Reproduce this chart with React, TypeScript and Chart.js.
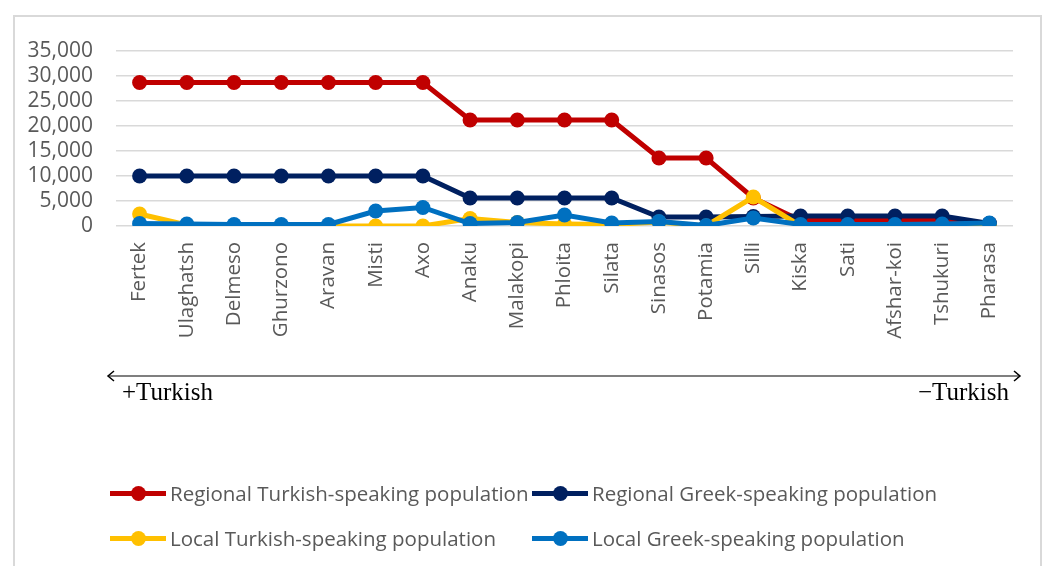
import React, { useEffect, useRef } from "react";
import { Chart, registerables } from "chart.js";

Chart.register(...registerables);

const categories = [
  "Fertek", "Ulaghatsh", "Delmeso", "Ghurzono", "Aravan", "Misti", "Axo",
  "Anaku", "Malakopi", "Phloita", "Silata", "Sinasos", "Potamia", "Silli",
  "Kiska", "Sati", "Afshar-koi", "Tshukuri", "Pharasa",
];

const regionalTurkish = [
  28700, 28700, 28700, 28700, 28700, 28700, 28700,
  21200, 21200, 21200, 21200, 13600, 13600, 5600,
  1100, 1100, 1100, 1100, 500,
];
const regionalGreek = [
  10000, 10000, 10000, 10000, 10000, 10000, 10000,
  5600, 5600, 5600, 5600, 1800, 1800, 1900,
  2000, 2000, 2000, 2000, 500,
];
const localTurkish = [
  2400, 200, 0, 0, 0, 0, 0,
  1500, 700, 400, 300, 800, 0, 5800,
  0, 0, 0, 0, 0,
];
const localGreek = [
  500, 400, 300, 300, 300, 3000, 3700,
  500, 700, 2200, 600, 900, 100, 1600,
  300, 300, 300, 400, 600,
];

const seriesNames = [
  "Regional Turkish-speaking population",
  "Regional Greek-speaking population",
  "Local Turkish-speaking population",
  "Local Greek-speaking population",
];
const seriesColors = ["#C00000", "#002060", "#FFC000", "#0070C0"];
const seriesData = [regionalTurkish, regionalGreek, localTurkish, localGreek];

const yMax = 35000;
const yStep = 5000;

const FONT = "'Open Sans', 'Noto Sans', sans-serif";
const TEXT_COLOR = "#595959";

function LegendItem({ name, color, left, top }: { name: string; color: string; left: number; top: number }) {
  return (
    <div style={{ position: "absolute", left, top, height: 24 }}>
      <div style={{ position: "absolute", left: 0, top: 10, width: 56, height: 5, background: color }} />
      <div style={{ position: "absolute", left: 21, top: 5, width: 15, height: 15, borderRadius: "50%", background: color }} />
      <div
        style={{
          position: "absolute",
          left: 60,
          top: -2,
          whiteSpace: "nowrap",
          fontFamily: FONT,
          fontSize: 20.5,
          color: TEXT_COLOR,
          lineHeight: "28px",
        }}
      >
        {name}
      </div>
    </div>
  );
}

export default function App() {
  const canvasRef = useRef<HTMLCanvasElement | null>(null);

  useEffect(() => {
    if (!canvasRef.current) return;
    const orders = [3, 2, 1, 0];
    const chart = new Chart(canvasRef.current, {
      type: "line",
      data: {
        labels: categories,
        datasets: seriesData.map((d, i) => ({
          label: seriesNames[i],
          data: d,
          borderColor: seriesColors[i],
          backgroundColor: seriesColors[i],
          pointBackgroundColor: seriesColors[i],
          pointBorderColor: seriesColors[i],
          borderWidth: 5,
          pointRadius: 7.5,
          pointBorderWidth: 0,
          tension: 0,
          order: orders[i],
        })),
      },
      options: {
        responsive: false,
        animation: false,
        layout: { padding: { left: 16, top: 51, right: 30, bottom: 14 } },
        plugins: {
          legend: { display: false },
          tooltip: { enabled: false },
        },
        scales: {
          x: {
            offset: true,
            grid: { display: false },
            border: { display: false },
            ticks: {
              minRotation: 90,
              maxRotation: 90,
              autoSkip: false,
              padding: 8,
              color: TEXT_COLOR,
              font: { family: FONT, size: 20.5 },
            },
            afterFit: (scale: any) => {
              scale.height = 120;
            },
          },
          y: {
            min: 0,
            max: yMax,
            border: { display: false },
            grid: { color: "#d9d9d9", lineWidth: 1.5, drawTicks: false },
            ticks: {
              stepSize: yStep,
              autoSkip: false,
              padding: 23,
              color: TEXT_COLOR,
              font: { family: FONT, size: 21 },
            },
            afterFit: (scale: any) => {
              scale.width = 100;
            },
          },
        },
      },
    });
    return () => chart.destroy();
  }, []);

  return (
    <div style={{ position: "absolute", left: 0, top: 0, width: 1043, height: 566, background: "#fff", overflow: "hidden" }}>
      <div
        style={{
          position: "absolute",
          left: 13,
          top: 15,
          width: 1025,
          height: 600,
          border: "2px solid #d9d9d9",
        }}
      />
      <canvas ref={canvasRef} width={1043} height={360} style={{ position: "absolute", left: 0, top: 0 }} />
      <svg width={1043} height={566} style={{ position: "absolute", left: 0, top: 0, pointerEvents: "none" }}>
        <line x1={109} y1={376} x2={1019} y2={376} stroke="#000" strokeWidth={1.2} />
        <polyline points="114,371 108,376 114,381" fill="none" stroke="#000" strokeWidth={1.5} />
        <polyline points="1014,371 1020,376 1014,381" fill="none" stroke="#000" strokeWidth={1.5} />
      </svg>
      <div
        style={{
          position: "absolute",
          left: 122,
          top: 378,
          fontFamily: "'Liberation Serif', 'DejaVu Serif', serif",
          fontSize: 25,
          color: "#000",
          whiteSpace: "nowrap",
        }}
      >
        +Turkish
      </div>
      <div
        style={{
          position: "absolute",
          right: 1043 - 1009,
          top: 378,
          fontFamily: "'Liberation Serif', 'DejaVu Serif', serif",
          fontSize: 25,
          color: "#000",
          whiteSpace: "nowrap",
        }}
      >
        −Turkish
      </div>
      <LegendItem name={seriesNames[0]} color={seriesColors[0]} left={110} top={481} />
      <LegendItem name={seriesNames[1]} color={seriesColors[1]} left={532} top={481} />
      <LegendItem name={seriesNames[2]} color={seriesColors[2]} left={110} top={526} />
      <LegendItem name={seriesNames[3]} color={seriesColors[3]} left={532} top={526} />
    </div>
  );
}
